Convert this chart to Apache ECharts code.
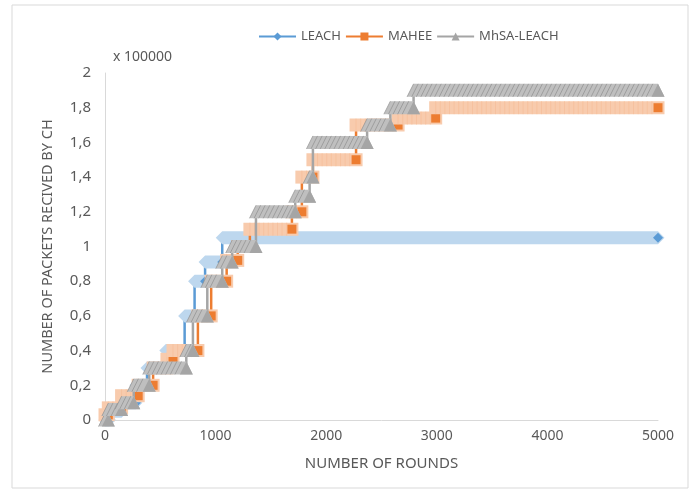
<!DOCTYPE html>
<html><head><meta charset="utf-8">
<script src="https://cdn.jsdelivr.net/npm/echarts@6/dist/echarts.min.js"></script>
<style>html,body{margin:0;padding:0;background:#fff}#c{width:691px;height:492px}</style>
</head><body><div id="c"></div>
<script>
// Each step: [startRound, endRound, packets (x 100000)]
const seriesNames = ['LEACH', 'MAHEE', 'MhSA-LEACH'];
const leachSteps = [[0,40,0],[40,150,0.05],[150,280,0.1],[280,380,0.2],[380,550,0.3],[550,720,0.4],[720,810,0.6],[810,905,0.8],[905,1060,0.91],[1060,5000,1.05]];
const maheeSteps = [[0,30,0.03],[30,150,0.07],[150,300,0.14],[300,435,0.2],[435,560,0.3],[560,615,0.35],[615,840,0.4],[840,960,0.6],[960,1100,0.8],[1100,1200,0.92],[1200,1310,1.0],[1310,1690,1.1],[1690,1780,1.2],[1780,1880,1.4],[1880,2270,1.5],[2270,2650,1.7],[2650,2990,1.74],[2990,5000,1.8]];
const mhsaSteps = [[0,30,0],[30,150,0.06],[150,260,0.1],[260,400,0.2],[400,735,0.3],[735,795,0.4],[795,925,0.6],[925,1060,0.8],[1060,1150,0.91],[1150,1365,1.0],[1365,1720,1.2],[1720,1850,1.29],[1850,1880,1.4],[1880,2370,1.6],[2370,2580,1.7],[2580,2790,1.8],[2790,5000,1.9]];
const xMin = 0, xMax = 5000, xStep = 1000;
const yMin = 0, yMax = 2, yStep = 0.2;
const yUnitLabel = 'x 100000';

const styles = {
  'LEACH': {line:'#5B9BD5', band:'#BDD7EE', stripe:'#ADCBE8', mark:'#5B9BD5', shape:'diamond'},
  'MAHEE': {line:'#ED7D31', band:'#F8CBAD', stripe:'#F4B990', mark:'#ED7D31', shape:'rect'},
  'MhSA-LEACH': {line:'#A5A5A5', band:'#BFBFBF', stripe:'#8F8F8F', mark:'#A5A5A5', shape:'triangle'}
};

function stepLine(segs){
  const pts=[];
  segs.forEach(s=>{pts.push([s[0],s[2]]);pts.push([s[1],s[2]]);});
  return pts;
}

function makeRender(st){
  const h = 6.5;
  return function(params, api){
    const y = api.value(2);
    const p0 = api.coord([api.value(0), y]);
    const p1 = api.coord([api.value(1), y]);
    const cy = p0[1];
    let pts;
    if (st.shape==='triangle'){
      pts=[[p0[0],cy-h],[p1[0],cy-h],[p1[0]+h,cy+h],[p0[0]-h,cy+h]];
    } else if (st.shape==='rect'){
      pts=[[p0[0]-h,cy-h],[p1[0]+h,cy-h],[p1[0]+h,cy+h],[p0[0]-h,cy+h]];
    } else {
      pts=[[p0[0]-h,cy],[p0[0],cy-h],[p1[0],cy-h],[p1[0]+h,cy],[p1[0],cy+h],[p0[0],cy+h]];
    }
    const children=[{type:'polygon',shape:{points:pts},style:{fill:st.band}}];
    const gap = 4.6;
    for (let x=p0[0]; x<p1[0]-2; x+=gap){
      if (st.shape==='triangle'){
        children.push({type:'line',shape:{x1:x,y1:cy-h,x2:x-h,y2:cy+h},style:{stroke:st.stripe,lineWidth:0.7}});
      } else if (st.shape==='rect'){
        children.push({type:'line',shape:{x1:x,y1:cy-h,x2:x,y2:cy+h},style:{stroke:st.stripe,lineWidth:0.5}});
      }
    }
    const mx=p1[0];
    if (st.shape==='triangle'){
      children.push({type:'polygon',shape:{points:[[mx,cy-h],[mx+h,cy+h],[mx-h,cy+h]]},style:{fill:st.mark}});
    } else if (st.shape==='rect'){
      children.push({type:'rect',shape:{x:mx-4.5,y:cy-4.5,width:9,height:9},style:{fill:st.mark}});
    } else {
      children.push({type:'polygon',shape:{points:[[mx-5,cy],[mx,cy-5],[mx+5,cy],[mx,cy+5]]},style:{fill:st.mark}});
    }
    return {type:'group',children};
  };
}

const allSteps = [leachSteps, maheeSteps, mhsaSteps];
const legendSymbols = ['diamond','rect','triangle'];
const series=[];
seriesNames.forEach((name,i)=>{
  const st=styles[name];
  series.push({
    name, type:'line', data:stepLine(allSteps[i]), showSymbol:false,
    symbol:legendSymbols[i], symbolSize:7,
    lineStyle:{color:st.line,width:2.5}, itemStyle:{color:st.mark},
    z:2+i*2, animation:false, silent:true
  });
  series.push({
    name, type:'custom', data:allSteps[i], renderItem:makeRender(st),
    encode:{x:[0,1],y:2}, z:3+i*2, animation:false, silent:true, clip:false
  });
});

const chart=echarts.init(document.getElementById('c'),null,{renderer:'canvas'});
const fontFam='"Noto Sans", sans-serif';
chart.setOption({
  animation:false,
  backgroundColor:'#fff',
  textStyle:{fontFamily:fontFam},
  graphic:[
    {type:'rect',shape:{x:12,y:5,width:676,height:483},style:{fill:null,stroke:'#d9d9d9',lineWidth:1},silent:true},
    {type:'text',left:113,top:50,style:{text:yUnitLabel,fill:'#595959',font:'14px '+fontFam}}
  ],
  legend:{
    data:seriesNames, left:253, top:25, itemWidth:37, itemHeight:10, itemGap:4,
    textStyle:{color:'#595959',fontSize:13,fontFamily:fontFam}
  },
  grid:{left:105,right:33,top:73,bottom:72,containLabel:false},
  xAxis:{
    type:'value', min:xMin, max:xMax, interval:xStep,
    name:'NUMBER OF ROUNDS', nameLocation:'middle', nameGap:36,
    nameTextStyle:{color:'#595959',fontSize:15,fontFamily:fontFam},
    axisLine:{show:true,lineStyle:{color:'#d9d9d9',width:1}},
    axisTick:{show:false}, splitLine:{show:false},
    axisLabel:{color:'#595959',fontSize:14,margin:9,fontFamily:fontFam,
      formatter:v=>String(Math.round(v))}
  },
  yAxis:{
    type:'value', min:yMin, max:yMax, interval:yStep,
    name:'NUMBER OF PACKETS RECIVED BY CH', nameLocation:'middle', nameGap:50,
    nameTextStyle:{color:'#595959',fontSize:14.5,fontFamily:fontFam},
    axisLine:{show:true,lineStyle:{color:'#d9d9d9',width:1}},
    axisTick:{show:false}, splitLine:{show:false},
    axisLabel:{color:'#595959',fontSize:15,margin:14,fontFamily:fontFam,
      formatter:v=>String(Math.round(v*10)/10).replace('.',',')}
  },
  series
});
</script></body></html>
